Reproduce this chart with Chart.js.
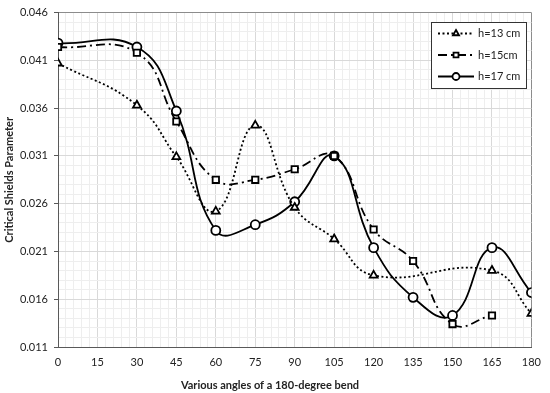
<!DOCTYPE html>
<html>
<head>
<meta charset="utf-8">
<script src="https://cdn.jsdelivr.net/npm/chart.js@4"></script>
<style>
  html, body { margin: 0; padding: 0; background: #fff; }
  #wrap { width: 550px; height: 393px; }
</style>
</head>
<body>
<div id="wrap"><canvas id="chart" width="550" height="393"></canvas></div>
<script>
// data
const angles = [0, 30, 45, 60, 75, 90, 105, 120, 135, 150, 165, 180];
const h13 = [0.0407, 0.0363, 0.0309, 0.0252, 0.0342, 0.0256, 0.0223, 0.0185, null, null, 0.0190, 0.0145];
const h15 = [0.0424, 0.0418, 0.0346, 0.0285, 0.0285, 0.0296, 0.0310, 0.0233, 0.0200, 0.0134, 0.0143, null];
const h17 = [0.0428, 0.0424, 0.0357, 0.0232, 0.0238, 0.0262, 0.0310, 0.0214, 0.0162, 0.0143, 0.0214, 0.0167];
const seriesLabels = ["h=13 cm", "h=15cm", "h=17 cm"];
const xTickLabels = [0, 15, 30, 45, 60, 75, 90, 105, 120, 135, 150, 165, 180];
const yTickLabels = ["0.011", "0.016", "0.021", "0.026", "0.031", "0.036", "0.041", "0.046"];
const xTitle = "Various angles of a 180-degree bend";
const yTitle = "Critical Shields Parameter";

const FONT = "Lato, 'Liberation Sans', sans-serif";

function toPoints(vals) {
  return angles.map((a, i) => ({ x: a, y: vals[i] }));
}

function makeSet(label, vals, dash, style) {
  return {
    label: label,
    data: toPoints(vals),
    borderColor: "#000",
    backgroundColor: "#fff",
    borderWidth: 1.8,
    borderDash: dash,
    pointStyle: style,
    pointRadius: 4.5,
    pointBorderWidth: 1.8,
    pointBackgroundColor: "#fff",
    pointBorderColor: "#000",
    tension: 0.45,
    spanGaps: true
  };
}

// legend drawn inside the plot, boxed like the original
const boxLegend = {
  id: "boxLegend",
  afterDraw(chart) {
    const ctx = chart.ctx;
    const x0 = 431, y0 = 22, w = 95, h = 66;
    ctx.save();
    ctx.fillStyle = "#fff";
    ctx.fillRect(x0, y0, w, h);
    ctx.strokeStyle = "#333";
    ctx.lineWidth = 1;
    ctx.strokeRect(x0 + 0.5, y0 + 0.5, w, h);
    chart.data.datasets.forEach((ds, i) => {
      const y = 33.5 + i * 21.5;
      ctx.strokeStyle = "#000";
      ctx.lineWidth = ds.borderWidth;
      ctx.setLineDash(ds.borderDash || []);
      ctx.beginPath();
      ctx.moveTo(438, y);
      ctx.lineTo(474, y);
      ctx.stroke();
      ctx.setLineDash([]);
      ctx.fillStyle = "#fff";
      Chart.helpers.drawPoint(ctx, {
        pointStyle: ds.pointStyle,
        radius: 3.5,
        borderWidth: 1.6,
        rotation: 0
      }, 456, y);
      ctx.fillStyle = "#222";
      ctx.font = "11px " + FONT;
      ctx.textBaseline = "middle";
      ctx.textAlign = "left";
      ctx.fillText(ds.label, 478, y);
    });
    // x axis title sits centred on the whole figure, not on the plot
    ctx.font = "bold 11px " + FONT;
    ctx.textAlign = "center";
    ctx.fillText(xTitle, 270, 385);
    ctx.restore();
  }
};

function isMajorY(v) {
  return Math.round((v - 0.011) * 1000) % 5 === 0;
}

new Chart(document.getElementById("chart"), {
  type: "line",
  data: {
    datasets: [
      makeSet(seriesLabels[0], h13, [2, 2.5], "triangle"),
      makeSet(seriesLabels[1], h15, [9, 4, 2, 4], "rect"),
      makeSet(seriesLabels[2], h17, [], "circle")
    ]
  },
  options: {
    responsive: false,
    animation: false,
    layout: { padding: { top: 10, right: 15, left: 0, bottom: 0 } },
    plugins: {
      legend: { display: false },
      tooltip: { enabled: false }
    },
    scales: {
      x: {
        type: "linear",
        min: 0,
        max: 180,
        afterFit(scale) { scale.height = 46; },
        border: { color: "#595959", width: 1 },
        grid: {
          drawTicks: false,
          color(c) {
            const v = c.tick ? c.tick.value : 0;
            if (v === 180) return "#8c8c8c";
            return v % 15 === 0 ? "#d9d9d9" : "#eeeeee";
          }
        },
        ticks: {
          stepSize: 3,
          maxTicksLimit: 1000,
          autoSkip: false,
          maxRotation: 0,
          padding: 9,
          color: "#222",
          font: { family: FONT, size: 11 },
          callback(v) {
            return xTickLabels.includes(v) ? String(v) : "";
          }
        }
      },
      y: {
        min: 0.011,
        max: 0.046,
        afterFit(scale) { scale.width = 58; },
        border: { color: "#595959", width: 1 },
        grid: {
          tickLength: 4,
          color(c) {
            const v = c.tick ? c.tick.value : 0;
            if (Math.abs(v - 0.046) < 1e-7) return "#8c8c8c";
            return isMajorY(v) ? "#d9d9d9" : "#eeeeee";
          },
          tickColor(c) {
            const v = c.tick ? c.tick.value : 0;
            return isMajorY(v) ? "#595959" : "rgba(0,0,0,0)";
          }
        },
        ticks: {
          stepSize: 0.001,
          maxTicksLimit: 1000,
          autoSkip: false,
          padding: 6,
          color: "#222",
          font: { family: FONT, size: 11 },
          callback(v) {
            if (!isMajorY(v)) return "";
            const idx = Math.round((v - 0.011) * 1000) / 5;
            return yTickLabels[idx];
          }
        },
        title: {
          display: true,
          text: yTitle,
          color: "#222",
          padding: { top: 3, bottom: 0 },
          font: { family: FONT, size: 11, weight: "bold" }
        }
      }
    }
  },
  plugins: [boxLegend]
});
</script>
</body>
</html>
